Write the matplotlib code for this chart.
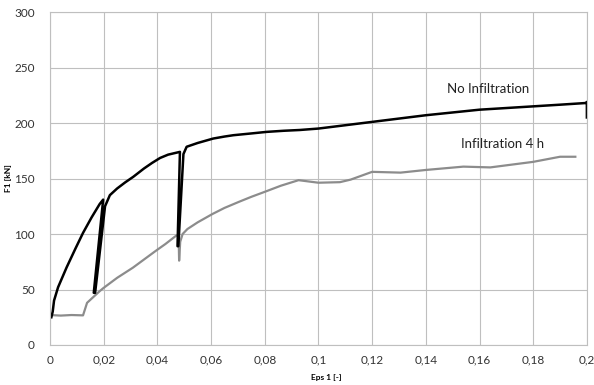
import matplotlib.pyplot as plt
from matplotlib.ticker import FuncFormatter

# No Infiltration (black), incl. the two unload/reload loops
eps_dry = [0.0005, 0.001, 0.0015, 0.003, 0.0062, 0.0095, 0.0123, 0.0155, 0.0185, 0.0198,
           0.0163, 0.0168, 0.0205, 0.0223, 0.025, 0.028, 0.031, 0.035, 0.038, 0.041,
           0.044, 0.0484, 0.0475, 0.0478, 0.0497, 0.0509, 0.055, 0.0608, 0.065, 0.0683,
           0.075, 0.0807, 0.087, 0.093, 0.1, 0.11, 0.12, 0.13, 0.14, 0.15,
           0.16, 0.17, 0.18, 0.19, 0.1995, 0.2, 0.2]
f_dry = [25, 30, 40, 52, 70, 87, 101, 115, 127, 131,
         47, 47, 125, 135, 141, 146.5, 151.5, 159, 164, 168.5,
         171.5, 174, 89, 89, 172, 178.6, 182, 186, 187.8, 189,
         190.6, 192, 193, 193.7, 195, 198, 201, 204, 207, 209.5,
         212, 213.5, 215, 216.5, 218, 219, 205]

# Infiltration 4 h (grey)
eps_inf = [0, 0.004, 0.008, 0.0123, 0.0138, 0.0185, 0.02, 0.025, 0.0309, 0.035,
           0.0395, 0.043, 0.047, 0.0479, 0.0481, 0.0485, 0.0494, 0.0512, 0.055, 0.0605,
           0.065, 0.0704, 0.075, 0.080, 0.086, 0.0926, 0.1, 0.108, 0.112, 0.12,
           0.1306, 0.14, 0.154, 0.164, 0.18, 0.19, 0.1957]
f_inf = [27, 26.5, 27, 26.7, 38, 48.5, 51.5, 60.5, 69.7, 77,
         85, 91, 98.5, 99, 76, 93, 100, 104.5, 110.5, 118,
         123.5, 129, 133.5, 138, 143.5, 148.5, 146.2, 146.7, 149, 156,
         155.3, 157.7, 160.7, 160, 165, 169.6, 169.6]

plt.rcParams['font.family'] = ['Lato', 'DejaVu Sans']

fig = plt.figure(figsize=(5.94, 3.85), dpi=100)
ax = fig.add_axes([0.0842, 0.1039, 0.9038, 0.8649])

ax.plot(eps_inf, f_inf, color="#8c8c8c", lw=1.6)
ax.plot(eps_dry, f_dry, color="black", lw=1.8)

ax.set_xlim(0, 0.2)
ax.set_ylim(0, 300)
ax.set_xticks([i * 0.02 for i in range(11)])
ax.set_yticks(range(0, 301, 50))
ax.xaxis.set_major_formatter(FuncFormatter(lambda v, p: f"{v:.2f}".rstrip("0").rstrip(".").replace(".", ",")))
ax.tick_params(length=0, labelsize=8.5, colors="#333333", pad=7)
ax.tick_params(axis="y", pad=11)
ax.grid(True, color="#bfbfbf", lw=0.8)
for s in ax.spines.values():
    s.set_color("#bfbfbf")
    s.set_linewidth(0.8)

ax.text(0.148, 230.5, "No Infiltration", fontsize=9.5, color="#222222", va="center")
ax.text(0.153, 181.5, "Infiltration 4 h", fontsize=9.5, color="#222222", va="center")

fig.text(0.55, 0.02, "Eps 1 [-]", fontsize=6, fontweight="bold", ha="center", va="center")
fig.text(0.014, 0.537, "F1 [kN]", fontsize=6, fontweight="bold", ha="center", va="center", rotation=90)

fig.savefig("out.png")
